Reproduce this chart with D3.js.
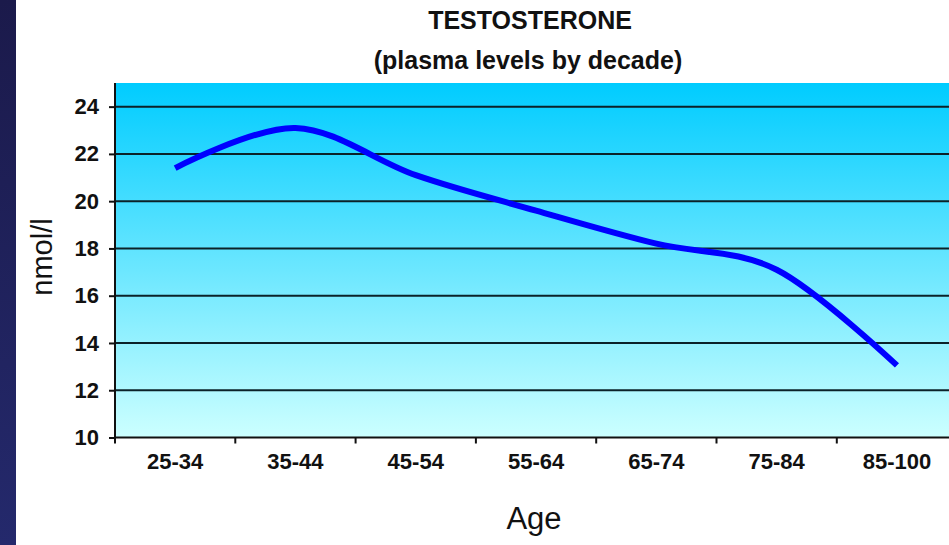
<!DOCTYPE html>
<html>
<head>
<meta charset="utf-8">
<script src="https://cdn.jsdelivr.net/npm/d3@7"></script>
<style>
body { margin: 0; background: #fff; }
svg { display: block; font-family: "Liberation Sans", Arial, sans-serif; }
</style>
</head>
<body>
<script>
// testosterone by age group
var ageGroups = ['25-34', '35-44', '45-54', '55-64', '65-74', '75-84', '85-100'];
var levels = [21.4, 23.1, 21.1, 19.6, 18.2, 17.1, 13.05];
var yTicks = [10, 12, 14, 16, 18, 20, 22, 24];

var width = 949, height = 545;
var plotLeft = 115, plotTop = 83, plotBottom = 437.5, bandW = 120.3;

var svg = d3.select('body').append('svg')
    .attr('width', width)
    .attr('height', height);

var defs = svg.append('defs');
var bg = defs.append('linearGradient').attr('id', 'plotbg')
    .attr('x1', 0).attr('y1', 0).attr('x2', 0).attr('y2', 1);
bg.append('stop').attr('offset', '0%').attr('stop-color', '#00ccff');
bg.append('stop').attr('offset', '100%').attr('stop-color', '#ccffff');

var side = defs.append('linearGradient').attr('id', 'sidebar')
    .attr('x1', 0).attr('y1', 0).attr('x2', 0).attr('y2', 1);
side.append('stop').attr('offset', '0%').attr('stop-color', '#1b1a4b');
side.append('stop').attr('offset', '100%').attr('stop-color', '#24296c');

// dark strip on the left (slide edge)
svg.append('rect')
    .attr('x', 0).attr('y', 0)
    .attr('width', 16).attr('height', height)
    .attr('fill', 'url(#sidebar)');

var x = d3.scaleBand()
    .domain(ageGroups)
    .range([plotLeft, plotLeft + bandW * ageGroups.length]);

var y = d3.scaleLinear()
    .domain([10, 25])
    .range([plotBottom, plotTop]);

svg.append('rect')
    .attr('x', plotLeft).attr('y', y(25))
    .attr('width', width - plotLeft).attr('height', y(10) - y(25))
    .attr('fill', 'url(#plotbg)');

// gridlines
svg.selectAll('.grid')
    .data(yTicks.filter(function (d) { return d > 10; }))
    .enter().append('line')
    .attr('x1', plotLeft).attr('x2', width)
    .attr('y1', function (d) { return y(d); })
    .attr('y2', function (d) { return y(d); })
    .attr('stroke', '#0b2229')
    .attr('stroke-width', 2);

// y axis
var yAxis = svg.append('g')
    .attr('transform', 'translate(' + plotLeft + ',0)')
    .call(d3.axisLeft(y).tickValues(yTicks).tickSize(6).tickPadding(10));
yAxis.select('.domain').attr('d', 'M0,' + y(25) + 'V' + (y(10) + 6))
    .attr('stroke', '#111').attr('stroke-width', 2);
yAxis.selectAll('.tick line').attr('stroke', '#111').attr('stroke-width', 2);
yAxis.selectAll('.tick text')
    .attr('fill', '#111')
    .style('font-size', '22px')
    .style('font-weight', 'bold');

// x axis
var xAxis = svg.append('g')
    .attr('transform', 'translate(0,' + plotBottom + ')')
    .call(d3.axisBottom(x).tickSize(0).tickPadding(16));
xAxis.select('.domain').attr('d', 'M' + plotLeft + ',0H' + width)
    .attr('stroke', '#111').attr('stroke-width', 2);
xAxis.selectAll('.tick text')
    .attr('fill', '#111')
    .style('font-size', '22px')
    .style('font-weight', 'bold');
xAxis.selectAll('.edge')
    .data(ageGroups.slice(1))
    .enter().append('line')
    .attr('x1', function (d) { return x(d); })
    .attr('x2', function (d) { return x(d); })
    .attr('y1', 0).attr('y2', 6)
    .attr('stroke', '#111').attr('stroke-width', 2);

// the curve
var line = d3.line()
    .x(function (d, i) { return x(ageGroups[i]) + x.bandwidth() / 2; })
    .y(function (d) { return y(d); })
    .curve(d3.curveCardinal.tension(0));

svg.append('path')
    .datum(levels)
    .attr('d', line)
    .attr('fill', 'none')
    .attr('stroke', '#0000ff')
    .attr('stroke-width', 6);

// titles
svg.append('text')
    .attr('x', 530).attr('y', 29)
    .attr('text-anchor', 'middle')
    .style('font-size', '25px').style('font-weight', 'bold')
    .attr('fill', '#111')
    .text('TESTOSTERONE');
svg.append('text')
    .attr('x', 528).attr('y', 69)
    .attr('text-anchor', 'middle')
    .style('font-size', '25px').style('font-weight', 'bold')
    .attr('fill', '#111')
    .text('(plasma levels by decade)');

svg.append('text')
    .attr('x', 534).attr('y', 529)
    .attr('text-anchor', 'middle')
    .style('font-size', '31px')
    .attr('fill', '#111')
    .text('Age');

svg.append('text')
    .attr('transform', 'translate(52,257) rotate(-90)')
    .attr('text-anchor', 'middle')
    .style('font-size', '29px')
    .attr('fill', '#111')
    .text('nmol/l');
</script>
</body>
</html>
